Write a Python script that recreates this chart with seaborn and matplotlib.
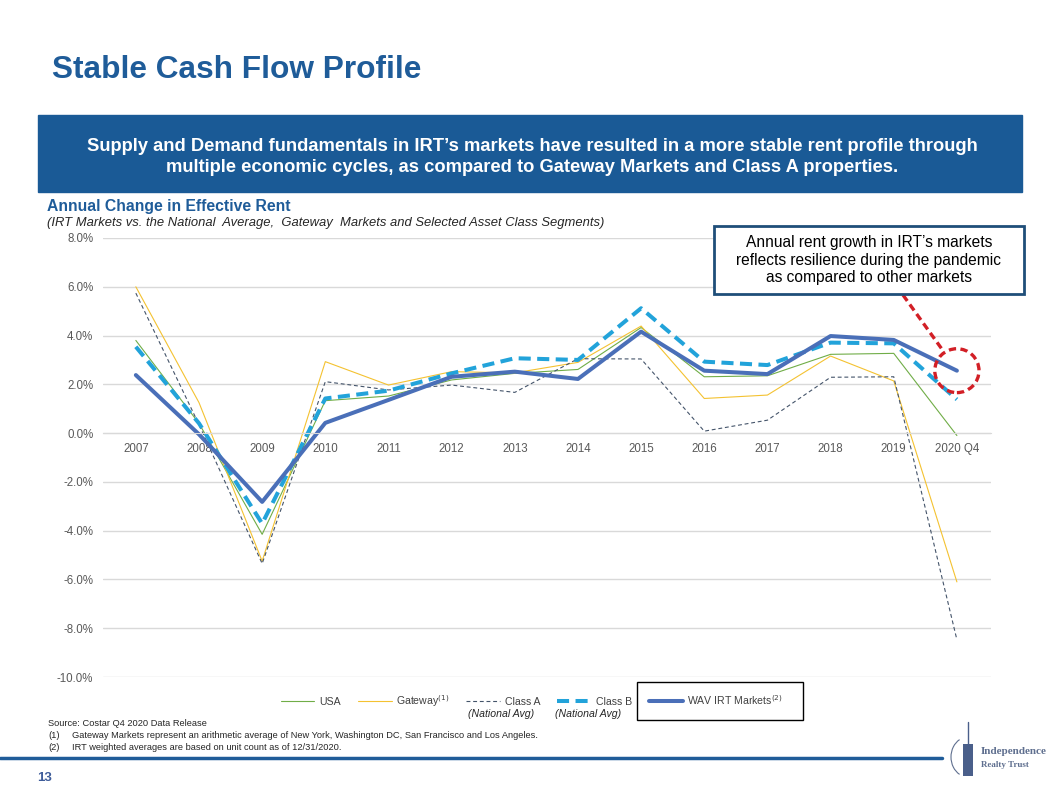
import matplotlib
matplotlib.use("Agg")
import matplotlib.pyplot as plt
from matplotlib.patches import Rectangle, Ellipse, Arc
from matplotlib.lines import Line2D
import seaborn as sns
import numpy as np

# values (annual change in effective rent, %)
categories = ["2007", "2008", "2009", "2010", "2011", "2012", "2013", "2014",
              "2015", "2016", "2017", "2018", "2019", "2020 Q4"]
usa = [3.80, 0.40, -4.15, 1.33, 1.52, 2.18, 2.45, 2.61, 4.33, 2.31, 2.35, 3.23, 3.27, -0.10]
gateway = [6.00, 1.25, -5.25, 2.93, 1.97, 2.52, 2.47, 2.90, 4.39, 1.42, 1.56, 3.16, 2.14, -6.10]
class_a = [5.74, 0.35, -5.35, 2.11, 1.77, 1.97, 1.67, 3.05, 3.04, 0.08, 0.53, 2.29, 2.31, -8.47]
class_b = [3.54, 0.40, -3.71, 1.42, 1.74, 2.45, 3.07, 3.00, 5.12, 2.93, 2.79, 3.71, 3.68, 1.38]
irt = [2.38, -0.05, -2.82, 0.42, 1.36, 2.31, 2.52, 2.22, 4.16, 2.56, 2.42, 3.98, 3.82, 2.56]
y_ticks = [-10, -8, -6, -4, -2, 0, 2, 4, 6, 8]

BLUE = "#1F5C99"
W, H = 1058, 796

sns.set_style("white")
plt.rcParams["font.family"] = ["Liberation Sans", "DejaVu Sans"]


def fx(px):
    return px / W


def fy(py):
    return 1 - py / H


fig = plt.figure(figsize=(W / 100, H / 100), dpi=100)

# slide header
fig.text(fx(52), fy(70), "Stable Cash Flow Profile", fontsize=22.8, fontweight="bold",
         color=BLUE, va="center", ha="left")
fig.patches.append(Rectangle((fx(38), fy(192)), fx(1022) - fx(38), fy(115) - fy(192),
                             transform=fig.transFigure, color="#1A5A96", zorder=0))
fig.text(fx(532), fy(157), "Supply and Demand fundamentals in IRT\u2019s markets have resulted in a more stable rent profile through\n"
         "multiple economic cycles, as compared to Gateway Markets and Class A properties.",
         fontsize=13.2, fontweight="bold", color="white", ha="center", va="center", linespacing=1.3)

fig.text(fx(47), fy(207), "Annual Change in Effective Rent", fontsize=11.3, fontweight="bold",
         color=BLUE, va="center")
fig.text(fx(47), fy(223), "(IRT Markets vs. the National  Average,  Gateway  Markets and Selected Asset Class Segments)",
         fontsize=9.4, style="italic", color="#262626", va="center")

# chart
ax = fig.add_axes([fx(103), fy(677), fx(991) - fx(103), fy(238) - fy(677)])
x = np.arange(len(categories))

sns.lineplot(x=x, y=usa, ax=ax, color="#70AD47", linewidth=0.8, label="USA")
sns.lineplot(x=x, y=gateway, ax=ax, color="#F4C231", linewidth=0.8, label="Gateway$^{(1)}$")
sns.lineplot(x=x, y=class_a, ax=ax, color="#44546A", linewidth=0.8, linestyle=(0, (3.5, 2.5)),
             label="Class A")
sns.lineplot(x=x, y=class_b, ax=ax, color="#22A3DA", linewidth=2.9, linestyle=(0, (3, 1.6)),
             label="Class B")
sns.lineplot(x=x, y=irt, ax=ax, color="#4A6FB8", linewidth=2.9, label="WAV IRT Markets$^{(2)}$")

ax.set_xlim(-0.52, len(categories) - 1 + 0.54)
ax.set_ylim(-10, 8)
ax.set_yticks(y_ticks)
ax.set_yticklabels([f"{v:.1f}%" for v in y_ticks])
ax.set_xticks(x)
ax.set_xticklabels(categories)
ax.yaxis.grid(True, color="#D9D9D9", linewidth=1)
ax.set_axisbelow(True)
for s in ["top", "right", "left"]:
    ax.spines[s].set_visible(False)
ax.spines["bottom"].set_position(("data", 0))
ax.spines["bottom"].set_color("#D9D9D9")
ax.tick_params(axis="both", length=0, labelsize=8.3, labelcolor="#595959")
ax.tick_params(axis="x", pad=7)
ax.tick_params(axis="y", pad=7)

# highlight circle on latest IRT value
ax.add_patch(Ellipse((x[-1], irt[-1]), 0.70, 1.8, fill=False, edgecolor="#D21F26",
                     linewidth=2.4, linestyle=(0, (2.2, 1.3)), zorder=5, clip_on=False))

leg = ax.legend(loc="center", bbox_to_anchor=(fx(532), fy(701)), bbox_transform=fig.transFigure,
                ncol=5, frameon=False, fontsize=7.6, handlelength=3.2, columnspacing=1.6,
                handletextpad=0.45)
for t in leg.get_texts():
    t.set_color("#404040")

fig.text(fx(468), fy(714), "(National Avg)", fontsize=7.6, style="italic", color="#262626", va="center")
fig.text(fx(555), fy(714), "(National Avg)", fontsize=7.6, style="italic", color="#262626", va="center")
fig.patches.append(Rectangle((fx(637), fy(720)), fx(803) - fx(637), fy(682) - fy(720),
                             transform=fig.transFigure, fill=False, edgecolor="black", linewidth=1))

# callout
fig.patches.append(Rectangle((fx(714), fy(294)), fx(1024) - fx(714), fy(226) - fy(294),
                             transform=fig.transFigure, facecolor="white", edgecolor="#1F4E79",
                             linewidth=2, zorder=6))
fig.text(fx(869), fy(260), "Annual rent growth in IRT\u2019s markets\nreflects resilience during the pandemic\n"
         "as compared to other markets", fontsize=11.2, ha="center", va="center", color="black",
         linespacing=1.17, zorder=7)
fig.lines.append(Line2D([fx(903), fx(944)], [fy(295), fy(352)], transform=fig.transFigure,
                        color="#D21F26", linewidth=2.4, linestyle=(0, (2.2, 1.3))))

# footnotes
fs = 6.7
fig.text(fx(48), fy(724), "Source: Costar Q4 2020 Data Release", fontsize=fs, va="center")
fig.text(fx(48), fy(736), "(1)", fontsize=fs, va="center")
fig.text(fx(72), fy(736), "Gateway Markets represent an arithmetic average of New York, Washington DC, San Francisco and Los Angeles.",
         fontsize=fs, va="center")
fig.text(fx(48), fy(748), "(2)", fontsize=fs, va="center")
fig.text(fx(72), fy(748), "IRT weighted averages are based on unit count as of 12/31/2020.", fontsize=fs, va="center")

fig.lines.append(Line2D([0, fx(942)], [fy(758), fy(758)], transform=fig.transFigure,
                        color="#1F5C99", linewidth=2.5))
fig.text(fx(37), fy(778), "13", fontsize=9.5, color="#3E5C9A", fontweight="bold", va="center")

# logo
fig.text(fx(981), fy(751), "Independence", fontsize=8, family="Liberation Serif", fontweight="bold",
         color="#5F6F8F", va="center")
fig.text(fx(981), fy(765), "Realty Trust", fontsize=6.5, family="Liberation Serif", fontweight="bold",
         color="#5F6F8F", va="center")
fig.patches.append(Arc((fx(968), fy(757)), fx(34), fy(0) - fy(40), theta1=110, theta2=250,
                       transform=fig.transFigure, edgecolor="#5F6F8F", linewidth=0.8))
fig.patches.append(Rectangle((fx(963), fy(776)), fx(10), fy(744) - fy(776),
                             transform=fig.transFigure, facecolor="#4A5F8A", edgecolor="none"))
fig.lines.append(Line2D([fx(968), fx(968)], [fy(744), fy(722)], transform=fig.transFigure,
                        color="#4A5F8A", linewidth=1))

fig.savefig("out.png", dpi=100)
